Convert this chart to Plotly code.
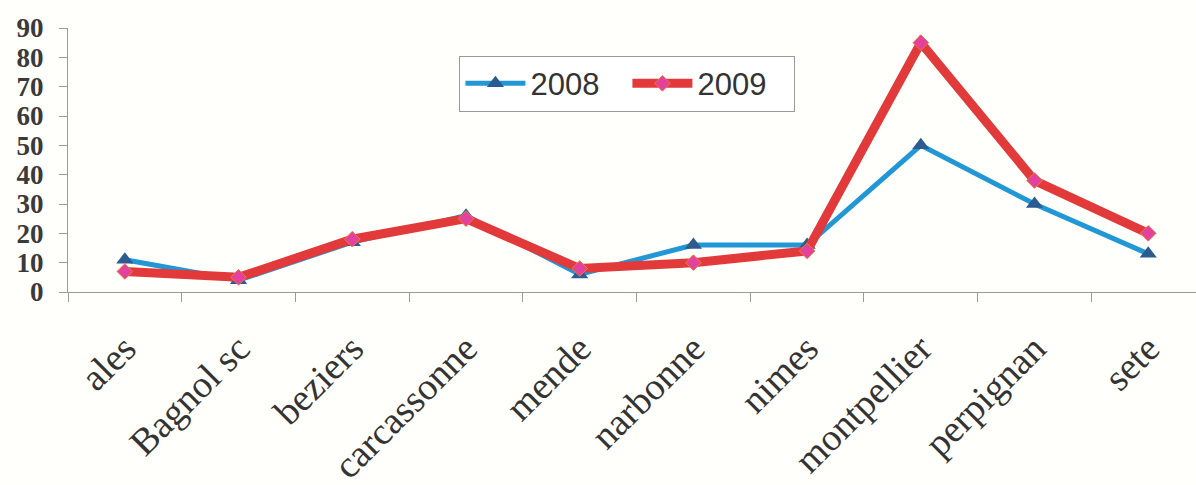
import plotly.graph_objects as go

# Categories and yearly values
villes = ["ales", "Bagnol sc", "beziers", "carcassonne", "mende",
          "narbonne", "nimes", "montpellier", "perpignan", "sete"]
valeurs_2008 = [11, 4, 17, 26, 6, 16, 16, 50, 30, 13]
valeurs_2009 = [7, 5, 18, 25, 8, 10, 14, 85, 38, 20]
y_ticks = [0, 10, 20, 30, 40, 50, 60, 70, 80, 90]

fig = go.Figure()
fig.add_trace(go.Scatter(
    x=villes, y=valeurs_2008, name="2008", mode="lines+markers",
    line=dict(color="#2197d6", width=5),
    marker=dict(symbol="triangle-up", size=15, color="#2d5b8f"),
))
fig.add_trace(go.Scatter(
    x=villes, y=valeurs_2009, name="2009", mode="lines+markers",
    line=dict(color="#e23a3a", width=9),
    marker=dict(symbol="diamond", size=12, color="#e4419c",
                line=dict(color="#e87a3a", width=1)),
))

fig.update_layout(
    width=1196, height=485,
    margin=dict(l=68, r=0, t=28, b=193),
    paper_bgcolor="#fffffc", plot_bgcolor="#fffffc",
    showlegend=True,
    legend=dict(
        x=0.347, y=0.895, xanchor="left", yanchor="top",
        orientation="h", bordercolor="#9a9a9a", borderwidth=1,
        bgcolor="#ffffff",
        font=dict(family="Liberation Sans, Arial", size=31, color="#333333"),
        itemwidth=60, entrywidth=92, tracegroupgap=0,
    ),
    xaxis=dict(
        type="category", range=[-0.5, 9.42],
        tickangle=-45, tickson="boundaries", ticks="outside",
        ticklen=9, tickcolor="#9a9a9a", ticklabelstandoff=18,
        showline=True, linecolor="#9a9a9a", linewidth=1,
        showgrid=False, zeroline=False,
        tickfont=dict(family="Liberation Serif, Times New Roman", size=38,
                      color="#333333"),
    ),
    yaxis=dict(
        range=[0, 90], tickvals=y_ticks, ticks="outside",
        ticklen=8, tickcolor="#9a9a9a", ticklabelstandoff=10,
        showline=True, linecolor="#9a9a9a", linewidth=1,
        showgrid=False, zeroline=False,
        tickfont=dict(family="Liberation Serif, Times New Roman", size=27,
                      color="#3a3a3a", weight="bold"),
    ),
)

fig.write_html("out.html")
